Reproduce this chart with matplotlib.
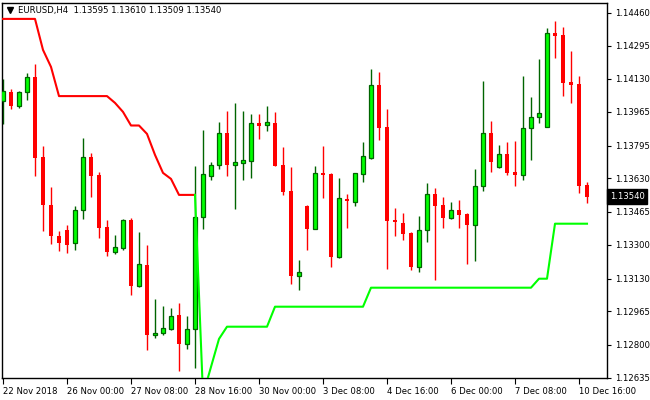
import matplotlib
matplotlib.use("Agg")
from matplotlib import pyplot as plt
import numpy as np

# EURUSD H4 candles, 22 Nov 2018 16:00 .. 10 Dec 2018 20:00
opens = [1.14018, 1.14063, 1.13994, 1.14061, 1.14138, 1.13735, 1.13500, 1.13343, 1.13373, 1.13306,
         1.13471, 1.13736, 1.13648, 1.13388, 1.13261, 1.13284, 1.13423, 1.13094, 1.13198, 1.12848,
         1.12859, 1.12879, 1.12946, 1.12804, 1.12876, 1.13436, 1.13644, 1.13699, 1.13856, 1.13699,
         1.13709, 1.13719, 1.13906, 1.13896, 1.13908, 1.13696, 1.13568, 1.13144, 1.13493, 1.13379,
         1.13656, 1.13653, 1.13239, 1.13528, 1.13514, 1.13654, 1.13734, 1.14098, 1.13888, 1.13423,
         1.13406, 1.13358, 1.13189, 1.13371, 1.13551, 1.13496, 1.13431, 1.13471, 1.13453, 1.13399,
         1.13591, 1.13856, 1.13686, 1.13753, 1.13661, 1.13649, 1.13881, 1.13936, 1.13889, 1.14356,
         1.14348, 1.14113, 1.14103, 1.13595]
highs = [1.14128, 1.14078, 1.14068, 1.14156, 1.14203, 1.13793, 1.13589, 1.13368, 1.13398, 1.13493,
         1.13833, 1.13758, 1.13663, 1.13423, 1.13348, 1.13429, 1.13433, 1.13363, 1.13298, 1.13028,
         1.12993, 1.12983, 1.13008, 1.12943, 1.13693, 1.13873, 1.13713, 1.13913, 1.13968, 1.14008,
         1.13968, 1.13953, 1.13953, 1.13993, 1.13963, 1.13788, 1.13688, 1.13223, 1.13496, 1.13693,
         1.13793, 1.13658, 1.13633, 1.13553, 1.13658, 1.13813, 1.14178, 1.14163, 1.13978, 1.13483,
         1.13458, 1.13362, 1.13443, 1.13608, 1.13583, 1.13538, 1.13513, 1.13523, 1.13458, 1.13678,
         1.14118, 1.13918, 1.13798, 1.13813, 1.13818, 1.14143, 1.14038, 1.14228, 1.14383, 1.14418,
         1.14388, 1.14268, 1.14143, 1.13610]
lows = [1.13903, 1.13979, 1.13984, 1.14024, 1.13644, 1.13369, 1.13304, 1.13269, 1.13259, 1.13274,
        1.13429, 1.13539, 1.13334, 1.13244, 1.13254, 1.13273, 1.13049, 1.13089, 1.12774, 1.12834,
        1.12849, 1.12873, 1.12669, 1.12779, 1.12683, 1.13378, 1.13623, 1.13679, 1.13644, 1.13479,
        1.13623, 1.13633, 1.13829, 1.13869, 1.13692, 1.13549, 1.13104, 1.13074, 1.13274, 1.13377,
        1.13534, 1.13189, 1.13234, 1.13384, 1.13494, 1.13614, 1.13729, 1.13823, 1.13178, 1.13344,
        1.13324, 1.13174, 1.13164, 1.13314, 1.13124, 1.13384, 1.13429, 1.13384, 1.13204, 1.13219,
        1.13566, 1.13664, 1.13684, 1.13649, 1.13594, 1.13624, 1.13724, 1.13909, 1.13887, 1.14234,
        1.14044, 1.14009, 1.13559, 1.13509]
closes = [1.14068, 1.13994, 1.14063, 1.14136, 1.13734, 1.13499, 1.13344, 1.13309, 1.13299, 1.13471,
          1.13736, 1.13644, 1.13384, 1.13264, 1.13286, 1.13423, 1.13094, 1.13201, 1.12848, 1.12856,
          1.12883, 1.12941, 1.12804, 1.12876, 1.13436, 1.13650, 1.13696, 1.13856, 1.13699, 1.13711,
          1.13721, 1.13906, 1.13894, 1.13911, 1.13694, 1.13564, 1.13144, 1.13161, 1.13379, 1.13656,
          1.13649, 1.13239, 1.13531, 1.13519, 1.13656, 1.13741, 1.14098, 1.13884, 1.13419, 1.13411,
          1.13354, 1.13189, 1.13371, 1.13551, 1.13494, 1.13434, 1.13471, 1.13449, 1.13399, 1.13591,
          1.13856, 1.13711, 1.13751, 1.13659, 1.13649, 1.13881, 1.13936, 1.13956, 1.14356, 1.14344,
          1.14109, 1.14099, 1.13594, 1.13540]

# trailing stop indicator: red part (bars 0..24), green part (bars 24..73)
red_stop = [1.14428, 1.14428, 1.14428, 1.14428, 1.14428, 1.14273, 1.14188, 1.14042, 1.14042, 1.14042,
            1.14042, 1.14042, 1.14042, 1.14042, 1.14008, 1.13963, 1.13895, 1.13895, 1.13853, 1.13748,
            1.13658, 1.13628, 1.13548, 1.13548, 1.13548]
green_stop = [1.13548, 1.12548, 1.12688, 1.12828, 1.12889, 1.12889, 1.12889, 1.12889, 1.12889, 1.12889,
              1.12989, 1.12989, 1.12989, 1.12989, 1.12989, 1.12989, 1.12989, 1.12989, 1.12989, 1.12989,
              1.12989, 1.12989, 1.13084, 1.13084, 1.13084, 1.13084, 1.13084, 1.13084, 1.13084, 1.13084,
              1.13084, 1.13084, 1.13084, 1.13084, 1.13084, 1.13084, 1.13084, 1.13084, 1.13084, 1.13084,
              1.13084, 1.13084, 1.13084, 1.13129, 1.13129, 1.13404, 1.13404, 1.13404, 1.13404, 1.13404]

price_ticks = [1.14460, 1.14295, 1.14130, 1.13965, 1.13795, 1.13630, 1.13465,
               1.13300, 1.13130, 1.12965, 1.12800, 1.12635]
date_labels = ["22 Nov 2018", "26 Nov 00:00", "27 Nov 08:00", "28 Nov 16:00", "30 Nov 00:00",
               "3 Dec 08:00", "4 Dec 16:00", "6 Dec 00:00", "7 Dec 08:00", "10 Dec 16:00"]
last_price = 1.13540

plt.rcParams['font.family'] = ['DejaVu Sans']
fs = 6.1

fig = plt.figure(figsize=(6.5, 4), dpi=100)
ax = fig.add_axes([2/650, 22/400, 605/650, 375/400])

o = np.array(opens); h = np.array(highs); l = np.array(lows); c = np.array(closes)
x = np.arange(len(o))
up = c >= o
dn = ~up

# wicks
ax.vlines(x[up], l[up], h[up], color='#006400', lw=1, zorder=2)
ax.vlines(x[dn], l[dn], h[dn], color='#ff0000', lw=1, zorder=2)
# bodies
ax.bar(x[up], c[up] - o[up], bottom=o[up], width=0.55, color='#00ff00',
       edgecolor='#006400', lw=0.9, zorder=3)
ax.bar(x[dn], o[dn] - c[dn], bottom=c[dn], width=0.62, color='#ff0000', lw=0, zorder=3)

# the stop lines
ax.plot(np.arange(0, len(red_stop)), red_stop, color='#ff0000', lw=1.5, zorder=4)
ax.plot(np.arange(24, 24 + len(green_stop)), green_stop, color='#00ff00', lw=1.5, zorder=4)

ax.set_xlim(-0.125, 75.5)
ax.set_ylim(1.126325, 1.145075)

ax.yaxis.tick_right()
ax.set_yticks(price_ticks)
ax.set_yticklabels(["%.5f" % p for p in price_ticks])
ax.tick_params(axis='y', length=3, width=0.8, pad=2.5, labelsize=fs, direction='out')

ax.set_xticks(np.arange(0, 73, 8))
ax.set_xticklabels(date_labels, ha='left')
ax.tick_params(axis='x', length=4, width=0.8, pad=2.5, labelsize=fs, direction='out')

for s in ax.spines.values():
    s.set_color('black')
    s.set_linewidth(1)

# current price tag on the price scale
ax.text(1.005, last_price, "%.5f" % last_price, transform=ax.get_yaxis_transform(),
        color='white', fontsize=fs, va='center', ha='left',
        bbox=dict(facecolor='black', edgecolor='black', pad=1.8), clip_on=False)

# header
ax.plot([0.0124], [0.981], marker='v', ms=4, color='black', transform=ax.transAxes, clip_on=False)
ax.text(0.0264, 0.981, "EURUSD,H4  1.13595 1.13610 1.13509 1.13540", transform=ax.transAxes,
        fontsize=fs, va='center', ha='left', color='black')

fig.savefig("out.png", dpi=100)
